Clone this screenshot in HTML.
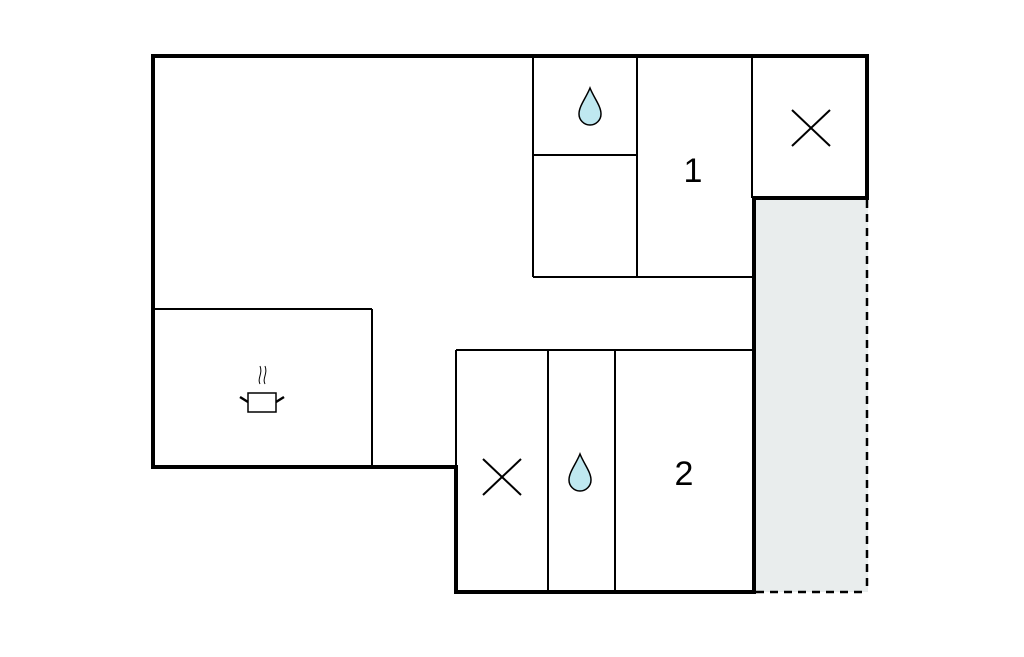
<!DOCTYPE html>
<html><head><style>body{margin:0;background:#fff}</style></head><body>
<svg width="1024" height="652" viewBox="0 0 1024 652" xmlns="http://www.w3.org/2000/svg">
<rect x="754" y="198" width="114" height="394" fill="#e9eded"/>
<g stroke="#000" stroke-width="2" fill="none">
<line x1="533" y1="56" x2="533" y2="277"/>
<line x1="533" y1="277" x2="754" y2="277"/>
<line x1="637" y1="56" x2="637" y2="277"/>
<line x1="533" y1="155" x2="637" y2="155"/>
<line x1="752" y1="56" x2="752" y2="198"/>
<line x1="153" y1="309" x2="372" y2="309"/>
<line x1="372" y1="309" x2="372" y2="467"/>
<line x1="456" y1="350" x2="754" y2="350"/>
<line x1="456" y1="350" x2="456" y2="467"/>
<line x1="548" y1="350" x2="548" y2="592"/>
<line x1="615" y1="350" x2="615" y2="592"/>
<line x1="792" y1="110" x2="830" y2="146"/><line x1="830" y1="110" x2="792" y2="146"/>
<line x1="483" y1="459" x2="521" y2="495"/><line x1="521" y1="459" x2="483" y2="495"/>
</g>
<g stroke="#000" stroke-width="4" fill="none" stroke-linecap="square">
<polyline points="153,467 153,56 867,56 867,198 754,198 754,592 456,592 456,467 153,467"/>
</g>
<g stroke="#000" stroke-width="2.5" fill="none" stroke-dasharray="8,6">
<line x1="867" y1="200" x2="867" y2="592"/>
<line x1="756" y1="592" x2="867" y2="592"/>
</g>
<g fill="#bfe8f0" stroke="#000" stroke-width="1.5">
<path d="M590,88 C586,98 579,106 579,114 A11,11 0 0 0 601,114 C601,106 594,98 590,88 Z"/>
<path d="M580,454 C576,464 569,472 569,480 A11,11 0 0 0 591,480 C591,472 584,464 580,454 Z"/>
</g>
<g stroke="#000" stroke-width="1.5" fill="#fff">
<rect x="248" y="393" width="28" height="19"/>
<path d="M240,397 L248,402 M284,397 L276,402" stroke-width="2.5"/>
<path d="M260,384 C257,378 263,374 260,366 M265,384 C262,378 268,374 265,366" fill="none" stroke-width="1"/>
</g>
<g font-family="Liberation Sans, sans-serif" font-size="34" fill="#000" text-anchor="middle">
<text x="693" y="182">1</text>
<text x="684" y="485">2</text>
</g>
</svg>
</body></html>
